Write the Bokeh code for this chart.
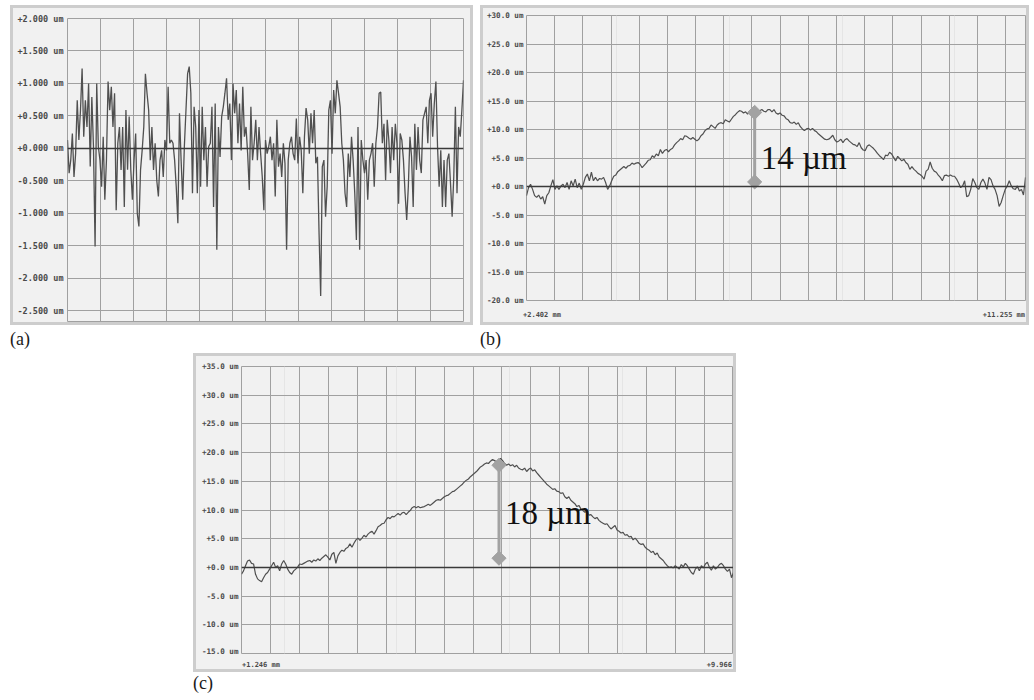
import numpy as np
from bokeh.plotting import figure
from bokeh.models import (FixedTicker, CustomJSTickFormatter, Span, Label, Div,
                          Spacer, Range1d, Grid)
from bokeh.layouts import column, row
from bokeh.embed import file_html
from bokeh.resources import INLINE

# ---------------- data ----------------
# (a) roughness profile, um (no x labels: 12 grid columns)
a_columns = 12
a_yticks = [-2.5, -2.0, -1.5, -1.0, -0.5, 0.0, 0.5, 1.0, 1.5, 2.0]
a_values = [
    0.13, -0.38, -0.18, 0.23, -0.44, -0.08, 0.74, 0.13, 0.59, 1.23,
    0.18, 0.74, 0.33, 1.0, -0.28, 0.79, 0.03, -1.51, 1.0, 0.03,
    -0.18, -0.59, 0.18, -0.79, -0.18, 1.03, 0.59, 0.95, 0.33, 0.85,
    -0.95, 0.08, 0.33, -0.33, 0.33, -0.9, 0.59, -0.33, 0.49, -0.33,
    -0.79, -0.18, 0.23, -1.0, -1.2, -0.33, -0.03, 0.33, 1.15, 0.85,
    0.59, -0.18, 0.33, -0.33, 0.08, -0.49, -0.74, -0.18, -0.03, -0.44,
    0.13, -0.03, 0.95, 0.08, 0.13, 0.08, -0.18, -0.59, -1.15, 0.54,
    -0.18, -0.79, 0.03, 0.59, 1.15, 1.26, 0.85, -0.69, 0.64, 0.33,
    -0.69, 0.59, -0.59, 0.64, -0.18, 0.33, -0.59, 0.03, 0.08, 0.64,
    -0.9, 0.69, -1.56, 0.33, -0.13, 0.49, 0.64, 0.85, 1.08, 0.44,
    0.69, -0.18, 1.0, 0.54, 0.9, 0.08, 0.69, -0.03, 0.95, 0.18,
    0.33, -0.08, -0.64, 0.64, -0.18, 0.08, 0.44, -0.18, 0.33, -0.08,
    -0.44, -0.95, 0.13, -0.08, 0.03, 0.18, -0.18, 0.08, -0.74, 0.44,
    -0.28, -0.08, -0.44, 0.08, -0.23, -1.56, -0.18, 0.08, 0.18, -0.08,
    -0.18, 0.46, -0.23, 0.18, -0.03, -0.69, 0.18, 0.62, 0.44, -0.08,
    0.54, 0.08, 0.59, -0.23, -0.13, -1.31, -2.27, -0.28, -0.18, -1.05,
    -0.59, 0.59, 0.74,
    -0.08, 0.9, 0.54, 1.05, 0.85, 0.64, 0.08, -0.18, -0.69, -0.9,
    -0.08, -0.44, 0.18, -0.18, -0.69, -1.41, 0.33, -1.56, 0.13, -0.18,
    -0.38, -0.18, -0.79, -0.18, -0.08, 0.08, -0.59, 0.08, 0.33, 0.85,
    0.87, 0.08, 0.38, -0.49, 0.44, 0.13, -0.38, 0.33, -0.18, 0.38,
    0.08, -0.85, 0.23, 0.13, -0.18, -0.69, -1.1, -0.59, 0.18, -0.13,
    -0.9, 0.38, -0.33, 0.33, -0.18, -0.38, 0.44, 0.54, 0.64, 0.08,
    0.74, 0.85, 0.18, 0.69, 1.03, 0.03, -0.59, -0.03, -0.9, -0.18,
    -0.9, -0.18, -0.08, -0.54, -1.05, -0.44, 0.64, -0.69, 0.33, 0.18,
    0.59, 1.05,
]

# (b) profile, x in mm, height in um
b_x_start, b_x_end = 2.402, 11.255
b_grid_mm = 0.5
b_yticks = [-20, -15, -10, -5, 0, 5, 10, 15, 20, 25, 30]
b_values = [
    -1.6, -0.2, 0.4, -0.5, -1.6, -1.9, -1.5, -2.2, -1.8, -3.1,
    -1.6, -1.1, 0.1, 1.2, -0.5, 0.1, -0.5, 0.1, 0.4, -0.2,
    0.7, -0.5, 1.0, 0.1, 1.3, -0.2, 0.6, -0.5, 0.4, 1.6,
    2.2, 1.0, 2.5, 1.0, 1.6, 1.0, 1.4, 1.3, 1.6, 0.7,
    -0.5, 0.1, 1.0, 1.8, 2.0, 2.6, 2.9, 3.2, 3.5, 3.2,
    3.6, 3.7, 4.1, 3.9, 4.1, 4.2, 3.9, 3.3, 3.7, 4.1,
    4.6, 4.7, 5.4, 5.1, 5.7, 5.4, 6.5, 5.8, 6.3, 6.5,
    6.1, 6.5, 6.7, 7.3, 7.7, 8.0, 8.4, 8.2, 8.9, 8.8,
    8.5, 8.3, 8.6, 8.3, 8.0, 8.3, 8.9, 9.2, 9.8, 10.1,
    10.2, 10.8, 10.5, 10.2, 10.8, 11.1, 11.2, 11.0, 11.7, 11.5,
    11.3, 11.8, 12.3, 12.6, 13.0, 13.3, 13.2, 12.9, 13.1, 12.7,
    13.0, 13.3, 13.6, 13.1, 12.9, 13.3, 13.5, 13.2, 13.1, 13.5,
    13.5, 13.1, 13.5, 12.9, 12.7, 12.9, 12.5, 12.4, 11.9, 11.7,
    11.2, 11.1, 11.3, 10.9, 11.2, 10.5, 10.1, 9.8, 10.1, 10.2,
    9.9, 10.2, 9.8, 9.6, 9.2, 8.9, 8.6, 8.3, 8.2, 8.3,
    8.6, 9.0, 8.2, 7.8, 8.0, 8.3, 7.7, 8.2, 8.4, 8.0,
    7.7, 7.4, 7.3, 7.0, 7.7, 6.8, 6.4, 6.3, 7.1, 7.3,
    7.0, 6.7, 6.3, 5.8, 5.4, 5.1, 4.7, 5.5, 5.4, 6.0,
    5.7, 5.1, 4.5, 5.3, 4.9, 4.5, 4.8, 4.2, 3.9, 3.0,
    3.5, 3.0, 2.7, 2.3, 2.1, 1.8, 1.3, 2.7, 3.0, 4.3,
    3.2, 2.7, 2.5, 2.0, 1.6, 1.0, 1.9, 2.0, 1.8, 2.0,
    1.8, 1.8, 1.3, 0.6, -0.2, 0.1, 1.0, -1.8, -1.6, -0.5,
    1.4, 0.7, -0.2, -0.5, 0.7, 1.3, 0.6, -0.5, 1.6, 1.2,
    0.1, -0.5, -1.6, -3.5, -2.8, -1.6, -0.5, 0.1, 1.0, 0.1,
    -0.4, -0.5, 0.1, -0.8, -0.5, -1.5, 1.6,
]
b_mark_x = 6.45
b_mark_low, b_mark_high = 0.8, 13.0
b_mark_text = "14 µm"
b_text_y = 5.0

# (c) profile, x in mm, height in um
c_x_start, c_x_end = 1.246, 9.966
c_columns = 17
c_yticks = [-15, -10, -5, 0, 5, 10, 15, 20, 25, 30, 35]
c_values = [
    -1.2, -0.6, 0.3, 1.1, 1.3, 0.7, 0.6, -1.2, -2.0, -2.3,
    -2.5, -1.8, -1.2, -0.9, -0.3, 0.3, 0.9, 0.0, 0.3, -0.6,
    0.6, 1.2, 0.6, -0.3, -0.9, -1.2, -0.6, -0.3, 0.1, 0.6,
    0.5, 0.7, 0.9, 1.1, 1.2, 0.9, 1.3, 1.1, 1.5, 1.2,
    1.6, 1.9, 2.2, 1.8, 1.3, 2.3, 2.6, 0.7, 2.0, 2.6,
    3.0, 2.8, 3.3, 3.5, 4.1, 3.5, 4.2, 4.8, 5.1, 4.7,
    5.1, 5.6, 5.3, 5.8, 6.1, 6.3, 5.8, 6.4, 7.1, 7.3,
    7.6, 7.7, 8.3, 8.7, 8.5, 8.9, 8.8, 9.1, 9.4, 9.1,
    9.5, 9.6, 9.2, 9.6, 9.9, 10.4, 10.6, 10.4, 10.6, 10.4,
    10.5, 10.6, 10.8, 11.0, 10.8, 11.1, 11.4, 11.7, 11.8, 11.7,
    12.0, 12.3, 12.5, 12.6, 12.9, 13.2, 13.3, 13.6, 13.9, 14.2,
    14.5, 14.9, 15.2, 15.4, 15.8, 16.1, 16.4, 16.7, 17.1, 17.5,
    17.7, 18.0, 18.2, 18.1, 18.5, 18.8, 18.6, 18.4, 18.4, 19.0,
    18.6, 18.1, 17.8, 18.0, 17.7, 17.9, 17.5, 17.8, 17.3, 17.1,
    17.0, 17.3, 16.7, 17.1, 17.3, 16.8, 17.0, 16.5, 16.1, 15.7,
    15.3, 14.9, 14.5, 14.2, 13.9, 13.6, 13.7, 13.3, 13.2, 12.9,
    13.0, 12.3, 12.0, 12.3, 11.7, 11.4, 11.1, 10.6, 10.8, 10.2,
    9.9, 9.6, 9.8, 9.1, 9.2, 8.8, 8.5, 8.7, 8.2, 7.9,
    7.7, 7.5, 7.6, 7.1, 6.7, 7.0, 7.3, 6.5, 6.3, 6.0,
    6.1, 5.6, 5.7, 5.3, 5.4, 4.8, 5.1, 4.7, 4.2, 4.0,
    4.1, 3.5, 3.2, 3.0, 2.6, 2.8, 2.2, 2.5, 1.8, 1.5,
    1.2, 0.7, 0.3, 0.0, 0.1, -0.1, 0.3, 0.0, -0.3, 0.5,
    0.1, 0.7, 0.3, -0.3, -0.9, -1.2, -0.3, 0.1, -0.6, 0.3,
    -0.1, 0.6, 0.9, 0.0, -0.5, 0.3, -0.3, 0.0, 0.5, 0.7,
    0.3, -0.3, -0.7, -0.3, -1.8, -0.9,
]
c_mark_x = 5.81
c_mark_low, c_mark_high = 1.6, 17.8
c_mark_text = "18 µm"
c_text_y = 9.4

panel_labels = ["(a)", "(b)", "(c)"]

# ---------------- style ----------------
TICK_FONT = "DejaVu Sans Mono"
SERIF = "Liberation Serif"
BG = "#f1f1f1"
GRID = "#a0a0a0"
TRACE = "#505050"
MARK = "#a2a2a2"
ZERO = "#3a3a3a"
FRAME = "3px solid #cdcdcd"


def panel(width, height, xr, yr, borders, yticks, xgrid, decimals, font_px, standoff):
    p = figure(width=width, height=height, x_range=Range1d(*xr), y_range=Range1d(*yr),
               output_backend="svg", toolbar_location=None, x_axis_location=None,
               min_border_left=borders[0], min_border_right=borders[1],
               min_border_top=borders[2], min_border_bottom=borders[3],
               background_fill_color=BG, border_fill_color=BG)
    p.outline_line_color = GRID
    p.outline_line_width = 1
    ax = p.yaxis[0]
    ax.ticker = FixedTicker(ticks=yticks)
    ax.formatter = CustomJSTickFormatter(
        code="return (tick >= 0 ? '+' : '') + tick.toFixed(%d) + ' um';" % decimals)
    ax.axis_line_color = None
    ax.major_tick_line_color = None
    ax.minor_tick_line_color = None
    ax.major_tick_out = 0
    ax.major_tick_in = 0
    ax.minor_tick_out = 0
    ax.minor_tick_in = 0
    ax.major_label_text_font = TICK_FONT
    ax.major_label_text_font_style = "bold"
    ax.major_label_text_font_size = "%.1fpx" % font_px
    ax.major_label_text_color = "#4a4a4a"
    ax.major_label_standoff = standoff
    p.ygrid.ticker = FixedTicker(ticks=yticks)
    p.ygrid.grid_line_color = GRID
    p.add_layout(Grid(dimension=0, ticker=FixedTicker(ticks=list(xgrid)),
                      grid_line_color=GRID))
    p.add_layout(Span(location=0, dimension="width", line_color=ZERO, line_width=1.5))
    return p


def end_labels(width, height, pad_left, pad_right, left, right):
    html = ('<div style="display:flex;justify-content:space-between;box-sizing:border-box;'
            'width:%dpx;padding-left:%dpx;padding-right:%dpx;font-family:\'DejaVu Sans Mono\';'
            'font-weight:bold;font-size:7px;color:#4a4a4a;line-height:9px;margin:0">'
            '<span>%s</span><span>%s</span></div>') % (width, pad_left, pad_right, left, right)
    return Div(text=html, width=width, height=height, margin=0,
               styles={"background-color": BG})


def marker(p, x, lo, hi, text, ty):
    p.segment(x0=[x], y0=[lo], x1=[x], y1=[hi], line_color=MARK, line_width=3)
    p.scatter(x=[x, x], y=[lo, hi], marker="square", angle=np.pi / 4, size=10,
              fill_color=MARK, line_color=MARK)
    p.add_layout(Label(x=x, y=ty, text=text, x_offset=6, text_baseline="middle",
                       text_font=SERIF, text_font_size="33px", text_color="#111111"))


# (a)  outer box 463 x 320 (inner 457 x 314)
fa = panel(457, 314, (0, a_columns), (-2.68, 2.0), (54, 7, 10, 0),
           a_yticks, range(0, a_columns + 1), 3, 8.5, 4)
a_x = np.linspace(0, a_columns, len(a_values))
fa.line(a_x, a_values, line_color=TRACE, line_width=1.3)
box_a = column(fa, styles={"border": FRAME, "background-color": BG})

# (b)  outer box 549 x 320 (inner 543 x 314)
fb = panel(543, 297, (b_x_start, b_x_end), (b_yticks[0], b_yticks[-1]), (40, 1, 7, 5),
           b_yticks, np.arange(b_x_start, b_x_end, b_grid_mm), 1, 7.6, 3)
b_x = np.linspace(b_x_start, b_x_end, len(b_values))
fb.line(b_x, b_values, line_color=TRACE, line_width=1.2)
marker(fb, b_mark_x, b_mark_low, b_mark_high, b_mark_text, b_text_y)
box_b = column(fb, end_labels(543, 17, 40, 1, "%+.3f mm" % b_x_start, "%+.3f mm" % b_x_end),
               styles={"border": FRAME, "background-color": BG})

# (c)  outer box 543 x 319 (inner 537 x 313)
fc = panel(537, 299, (c_x_start, c_x_end), (c_yticks[0], c_yticks[-1]), (45, 0, 10, 2),
           c_yticks, np.linspace(c_x_start, c_x_end, c_columns + 1), 1, 7.6, 3)
c_x = np.linspace(c_x_start, c_x_end, len(c_values))
fc.line(c_x, c_values, line_color=TRACE, line_width=1.2)
marker(fc, c_mark_x, c_mark_low, c_mark_high, c_mark_text, c_text_y)
box_c = column(fc, end_labels(537, 14, 46, 1, "%+.3f mm" % c_x_start, "%+.3f" % c_x_end),
               styles={"border": FRAME, "background-color": BG})


def tag(text, width, height):
    return Div(text=text, width=width, height=height, margin=0,
               styles={"font-family": SERIF, "font-size": "18px", "color": "#1a1a1a",
                       "line-height": "%dpx" % height})


layout = column(
    Spacer(height=5),
    row(Spacer(width=10), box_a, Spacer(width=7), box_b),
    row(Spacer(width=10), tag(panel_labels[0], 470, 28), tag(panel_labels[1], 549, 28)),
    row(Spacer(width=193), box_c),
    row(Spacer(width=193), tag(panel_labels[2], 300, 22)),
)

with open("out.html", "w") as f:
    f.write(file_html(layout, INLINE))
